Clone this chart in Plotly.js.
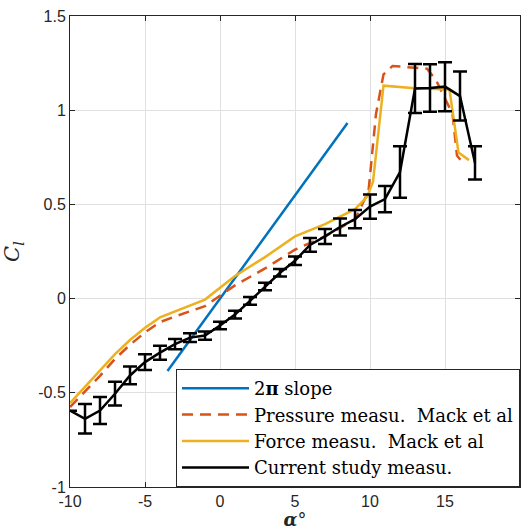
<!DOCTYPE html>
<html>
<head>
<meta charset="utf-8">
<script src="https://cdn.plot.ly/plotly-3.0.1.min.js"></script>
<style>html,body{margin:0;padding:0;background:#fff;}</style>
</head>
<body>
<div id="chart" style="width:527px;height:530px;"></div>
<script>
// 2π slope line (thin airfoil theory)
const slopeAlpha = [-3.5, 8.5];
const slopeCl = [-0.384, 0.932];

// Pressure measurements, Mack et al
const pressAlpha = [-10, -8, -7, -6, -5, -4, -3, -1, 1, 3, 5, 7, 9, 9.9, 10.4, 10.9, 11.5, 12.5, 13.8, 14.4, 15.5, 15.8, 16.1];
const pressCl = [-0.576, -0.41, -0.32, -0.245, -0.18, -0.125, -0.095, -0.04, 0.07, 0.16, 0.26, 0.33, 0.42, 0.57, 0.98, 1.19, 1.235, 1.23, 1.22, 1.16, 0.98, 0.76, 0.73];

// Force measurements, Mack et al
const forceAlpha = [-10, -8, -7, -6, -5, -4, -1, 1, 3, 5, 7, 9, 9.8, 10.2, 10.9, 13, 15.3, 15.9, 16.6];
const forceCl = [-0.555, -0.38, -0.295, -0.22, -0.155, -0.10, -0.005, 0.12, 0.22, 0.33, 0.395, 0.475, 0.54, 0.62, 1.13, 1.117, 1.11, 0.775, 0.735];

// Current study measurements
const curAlpha = [-10, -9, -8, -7, -6, -5, -4, -3, -2, -1, 0, 1, 2, 3, 4, 5, 6, 7, 8, 9, 10, 11, 12, 13, 14, 15, 16, 17];
const curCl = [-0.595, -0.638, -0.594, -0.505, -0.408, -0.337, -0.287, -0.242, -0.207, -0.196, -0.143, -0.085, -0.012, 0.064, 0.137, 0.201, 0.285, 0.33, 0.38, 0.422, 0.488, 0.528, 0.672, 1.115, 1.118, 1.125, 1.075, 0.72];
const curErr = [0, 0.078, 0.072, 0.063, 0.047, 0.042, 0.037, 0.027, 0.023, 0.022, 0.02, 0.02, 0.02, 0.02, 0.02, 0.022, 0.036, 0.04, 0.045, 0.048, 0.064, 0.07, 0.137, 0.13, 0.126, 0.13, 0.13, 0.088];

// Axis ticks
const xTickVals = [-10, -5, 0, 5, 10, 15, 20];
const xTickText = ['-10', '-5', '0', '5', '10', '15', '20'];
const yTickVals = [-1, -0.5, 0, 0.5, 1, 1.5];
const yTickText = ['-1', '-0.5', '0', '0.5', '1', '1.5'];

const traces = [
  {x: slopeAlpha, y: slopeCl, mode: 'lines', name: '2<b>π</b> slope',
   line: {color: '#0072BD', width: 2.5}},
  {x: pressAlpha, y: pressCl, mode: 'lines', name: 'Pressure measu.  Mack et al',
   line: {color: '#D95319', width: 2.5, dash: '11px,7px'}},
  {x: forceAlpha, y: forceCl, mode: 'lines', name: 'Force measu.  Mack et al',
   line: {color: '#EDB120', width: 2.5}},
  {x: curAlpha, y: curCl, mode: 'lines', name: 'Current study measu.',
   line: {color: '#000000', width: 2.5},
   error_y: {type: 'data', array: curErr, visible: true, color: '#000000', thickness: 2.5, width: 7}}
];

const axisCommon = {
  showline: true, linecolor: '#262626', linewidth: 1, mirror: 'ticks',
  ticks: 'inside', ticklen: 5, tickcolor: '#262626', tickwidth: 1,
  showgrid: true, gridcolor: '#e0e0e0', gridwidth: 1, zeroline: false,
  tickfont: {family: 'Liberation Sans, Arial, sans-serif', size: 16, color: '#262626'},
  tickmode: 'array'
};

const layout = {
  width: 527, height: 530,
  margin: {l: 70, r: 7, t: 16, b: 43},
  paper_bgcolor: '#ffffff', plot_bgcolor: '#ffffff',
  showlegend: true,
  xaxis: Object.assign({}, axisCommon, {
    range: [-10, 20], tickvals: xTickVals, ticktext: xTickText,
    title: {text: '<b><i>α</i></b>°', font: {family: 'DejaVu Serif, Liberation Serif, serif', size: 18, color: '#262626'}, standoff: 5}
  }),
  yaxis: Object.assign({}, axisCommon, {
    range: [-1, 1.5], tickvals: yTickVals, ticktext: yTickText,
    title: {text: '<i>C<sub>l</sub></i>', font: {family: 'DejaVu Serif, Liberation Serif, serif', size: 21, color: '#262626'}, standoff: 12}
  }),
  legend: {
    x: 1, xanchor: 'right', y: 0, yanchor: 'bottom',
    bgcolor: '#ffffff', bordercolor: '#262626', borderwidth: 1,
    font: {family: 'DejaVu Serif, Liberation Serif, serif', size: 18, color: '#000000'},
    itemwidth: 67, tracegroupgap: 0
  }
};

Plotly.newPlot('chart', traces, layout, {displayModeBar: false, staticPlot: true});
</script>
</body>
</html>
